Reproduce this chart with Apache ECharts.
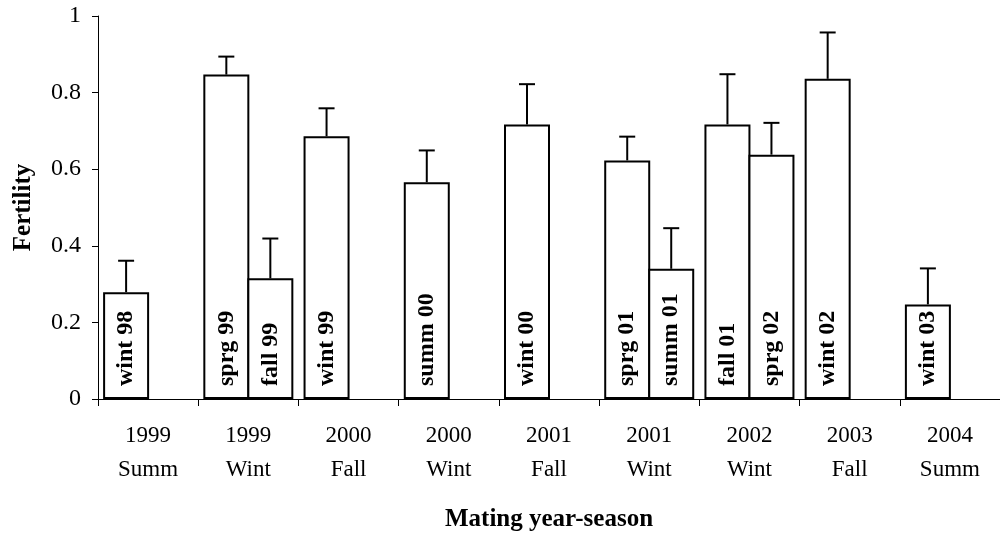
<!DOCTYPE html>
<html>
<head>
<meta charset="utf-8">
<title>Fertility by mating year-season</title>
<script src="https://cdn.jsdelivr.net/npm/echarts@6/dist/echarts.min.js"></script>
<style>
  html, body { margin: 0; padding: 0; background: #fff; }
  #chart { width: 1000px; height: 538px; }
</style>
</head>
<body>
<div id="chart"></div>
<script>
// Mating year-season categories (x axis)
const categories = ['1999\nSumm', '1999\nWint', '2000\nFall', '2000\nWint', '2001\nFall',
                    '2001\nWint', '2002\nWint', '2003\nFall', '2004\nSumm'];

// Left bar in each group
const firstValues = [0.279, 0.847, 0.686, 0.566, 0.717, 0.623, 0.717, 0.836, 0.247];
const firstErrors = [0.082, 0.047, 0.073, 0.083, 0.105, 0.062, 0.131, 0.121, 0.094];
const firstLabels = ['wint 98', 'sprg 99', 'wint 99', 'summ 00', 'wint 00', 'sprg 01', 'fall 01', 'wint 02', 'wint 03'];

// Right bar in each group (only some groups have one)
const secondValues = [null, 0.315, null, null, null, 0.340, 0.638, null, null];
const secondErrors = [null, 0.104, null, null, null, 0.106, 0.083, null, null];
const secondLabels = [null, 'fall 99', null, null, null, 'summ 01', 'sprg 02', null, null];

// Y axis ticks
const yTicks = [0, 0.2, 0.4, 0.6, 0.8, 1];

const FONT = "'Times New Roman', 'Liberation Serif', serif";
const BAR_W = 46;          // outer width, border drawn inside
const BAR_OVERLAP = 2;     // neighbouring bars share one border line

function barLabel(labels) {
  return {
    show: true,
    position: 'insideBottom',
    distance: 13,
    rotate: 90,
    align: 'left',
    verticalAlign: 'middle',
    fontFamily: FONT,
    fontWeight: 'bold',
    fontSize: 24,
    color: '#000',
    formatter: p => labels[p.dataIndex] || ''
  };
}

function errorData(values, errors) {
  const out = [];
  values.forEach((v, i) => {
    if (v != null && errors[i] != null) out.push([i, v, errors[i]]);
  });
  return out;
}

function errorSeries(values, errors, offset) {
  return {
    type: 'custom',
    z: 5,
    silent: true,
    data: errorData(values, errors),
    renderItem: function (params, api) {
      const i = api.value(0);
      const v = api.value(1);
      const e = api.value(2);
      const base = api.coord([i, v]);
      const top = api.coord([i, v + e]);
      const x = base[0] + offset;
      const style = { stroke: '#000', lineWidth: 2 };
      return {
        type: 'group',
        children: [
          { type: 'line', shape: { x1: x, y1: base[1], x2: x, y2: top[1] }, style: style },
          { type: 'line', shape: { x1: x - 8, y1: top[1], x2: x + 8, y2: top[1] }, style: style }
        ]
      };
    }
  };
}

const barGapPct = (-BAR_OVERLAP / BAR_W * 100) + '%';
const halfPair = (2 * BAR_W - BAR_OVERLAP) / 2;
const leftOffset = -halfPair + BAR_W / 2;
const rightOffset = halfPair - BAR_W / 2;

const chart = echarts.init(document.getElementById('chart'), null, { renderer: 'canvas' });

chart.setOption({
  animation: false,
  backgroundColor: '#fff',
  grid: { left: 98, top: 16, width: 905, bottom: 139, containLabel: false },
  xAxis: {
    type: 'category',
    data: categories,
    name: 'Mating year-season',
    nameLocation: 'middle',
    nameGap: 108,
    nameTextStyle: { fontFamily: FONT, fontWeight: 'bold', fontSize: 25, color: '#000' },
    axisLine: { lineStyle: { color: '#000', width: 1 } },
    axisTick: { show: true, length: 7, lineStyle: { color: '#000' } },
    axisLabel: {
      fontFamily: FONT, fontSize: 23, color: '#000',
      lineHeight: 34, margin: 20, interval: 0
    },
    splitLine: { show: false }
  },
  yAxis: {
    type: 'value',
    min: 0,
    max: 1,
    interval: 0.2,
    name: 'Fertility',
    nameLocation: 'middle',
    nameGap: 62,
    nameTextStyle: { fontFamily: FONT, fontWeight: 'bold', fontSize: 25, color: '#000' },
    axisLine: { show: true, lineStyle: { color: '#000', width: 1 } },
    axisTick: { show: true, inside: false, length: 6, lineStyle: { color: '#000' } },
    axisLabel: {
      fontFamily: FONT, fontSize: 24, color: '#000', margin: 17,
      formatter: v => {
        const t = yTicks.find(k => Math.abs(k - v) < 1e-9);
        return t === undefined ? '' : String(t);
      }
    },
    splitLine: { show: false }
  },
  series: [
    {
      type: 'bar',
      data: firstValues,
      barWidth: BAR_W,
      barGap: barGapPct,
      itemStyle: { color: '#fff', borderColor: '#000', borderWidth: 2 },
      label: barLabel(firstLabels)
    },
    {
      type: 'bar',
      data: secondValues,
      barWidth: BAR_W,
      barGap: barGapPct,
      itemStyle: { color: '#fff', borderColor: '#000', borderWidth: 2 },
      label: barLabel(secondLabels)
    },
    errorSeries(firstValues, firstErrors, leftOffset),
    errorSeries(secondValues, secondErrors, rightOffset)
  ]
});
</script>
</body>
</html>
